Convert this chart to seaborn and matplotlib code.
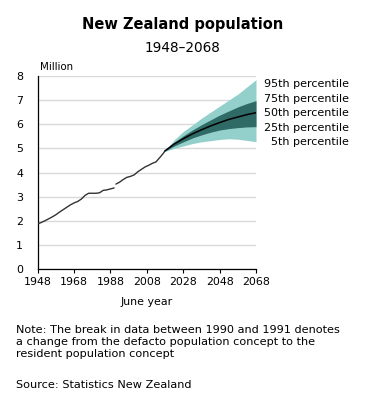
import matplotlib
matplotlib.use("Agg")
import matplotlib.pyplot as plt
import seaborn as sns
import pandas as pd

# Historical (defacto concept) 1948-1990
defacto_years = [1948, 1950, 1952, 1954, 1956, 1958, 1960, 1962, 1964, 1966, 1968, 1970,
                 1972, 1974, 1976, 1978, 1980, 1982, 1984, 1986, 1988, 1990]
defacto_pop = [1.87, 1.93, 2.00, 2.08, 2.16, 2.25, 2.36, 2.46, 2.56, 2.66, 2.74, 2.80,
               2.90, 3.05, 3.14, 3.14, 3.14, 3.16, 3.26, 3.28, 3.32, 3.36]

# Historical (resident concept) 1991-2018
resident_years = [1991, 1993, 1995, 1997, 1999, 2001, 2003, 2005, 2007, 2009, 2011, 2013,
                  2015, 2017, 2018]
resident_pop = [3.52, 3.60, 3.71, 3.80, 3.84, 3.90, 4.03, 4.13, 4.23, 4.30, 4.38, 4.44,
                4.61, 4.79, 4.90]

# Projections
proj_years = [2018, 2023, 2028, 2033, 2038, 2043, 2048, 2053, 2058, 2063, 2068]
p95 = [4.92, 5.35, 5.70, 5.97, 6.25, 6.50, 6.75, 7.00, 7.25, 7.55, 7.85]
p75 = [4.91, 5.25, 5.52, 5.76, 5.98, 6.18, 6.38, 6.55, 6.72, 6.86, 6.98]
p50 = [4.90, 5.18, 5.40, 5.60, 5.77, 5.93, 6.07, 6.20, 6.30, 6.40, 6.48]
p25 = [4.89, 5.10, 5.27, 5.43, 5.56, 5.67, 5.76, 5.82, 5.86, 5.89, 5.90]
p5 = [4.88, 5.00, 5.10, 5.20, 5.27, 5.32, 5.37, 5.40, 5.38, 5.33, 5.28]

percentile_labels = ["95th percentile", "75th percentile", "50th percentile",
                     "25th percentile", "5th percentile"]
xticks = [1948, 1968, 1988, 2008, 2028, 2048, 2068]
yticks = [0, 1, 2, 3, 4, 5, 6, 7, 8]

sns.set_theme(style="white")
plt.rcParams['font.family'] = ['DejaVu Sans']
plt.rcParams['text.color'] = 'black'
plt.rcParams['axes.labelcolor'] = 'black'

fig = plt.figure(figsize=(3.65, 4.17), dpi=100)
ax = fig.add_axes([0.1033, 0.3549, 0.5981, 0.4628])

light = "#93cfcb"
dark = "#2f6a66"

ax.fill_between(proj_years, p5, p95, color=light, lw=0, zorder=2)
ax.fill_between(proj_years, p25, p75, color=dark, lw=0, zorder=3)

df_a = pd.DataFrame({"year": defacto_years, "pop": defacto_pop})
df_b = pd.DataFrame({"year": resident_years, "pop": resident_pop})
df_p = pd.DataFrame({"year": proj_years, "pop": p50})
sns.lineplot(data=df_a, x="year", y="pop", ax=ax, color="#333333", lw=1.0, zorder=4)
sns.lineplot(data=df_b, x="year", y="pop", ax=ax, color="#333333", lw=1.0, zorder=4)
sns.lineplot(data=df_p, x="year", y="pop", ax=ax, color="black", lw=1.1, zorder=5)

ax.set_xlim(1948, 2068)
ax.set_ylim(0, 8)
ax.set_xticks(xticks)
ax.set_xticklabels([str(t) for t in xticks])
ax.set_yticks(yticks)
ax.set_yticklabels([str(t) for t in yticks])
ax.yaxis.grid(True, color="#d9d9d9", lw=1.0, zorder=0)
ax.xaxis.grid(False)
ax.set_axisbelow(True)
for s in ["top", "right"]:
    ax.spines[s].set_visible(False)
for s in ["left", "bottom"]:
    ax.spines[s].set_color("black")
    ax.spines[s].set_linewidth(0.9)
ax.tick_params(axis="x", bottom=True, length=3, width=0.8, color="black",
               labelsize=7.9, pad=3, labelcolor="black")
ax.tick_params(axis="y", left=False, length=0, labelsize=7.9, pad=10.5,
               labelcolor="black")
ax.set_xlabel("June year", fontsize=7.9, color="black", labelpad=7)
ax.set_ylabel("")

fig.text(40 / 365, 1 - 67 / 417, "Million", fontsize=7.4, ha="left", va="center")
fig.text(0.5, 1 - 25 / 417, "New Zealand population", fontsize=10.5,
         fontweight="bold", ha="center", va="center")
fig.text(0.5, 1 - 48 / 417, "1948\u20132068", fontsize=9.8, ha="center", va="center")

label_y = [84, 98.5, 113, 128, 142]
for lab, yp in zip(percentile_labels, label_y):
    fig.text(349 / 365, 1 - yp / 417, lab, fontsize=8, ha="right", va="center")

note = ("Note: The break in data between 1990 and 1991 denotes\n"
        "a change from the defacto population concept to the\n"
        "resident population concept")
fig.text(16 / 365, 1 - 325 / 417, note, fontsize=8.1, ha="left", va="top",
         linespacing=1.27)
fig.text(16 / 365, 1 - 385 / 417, "Source: Statistics New Zealand", fontsize=8.1,
         ha="left", va="center")

fig.savefig("out.png", dpi=100)
